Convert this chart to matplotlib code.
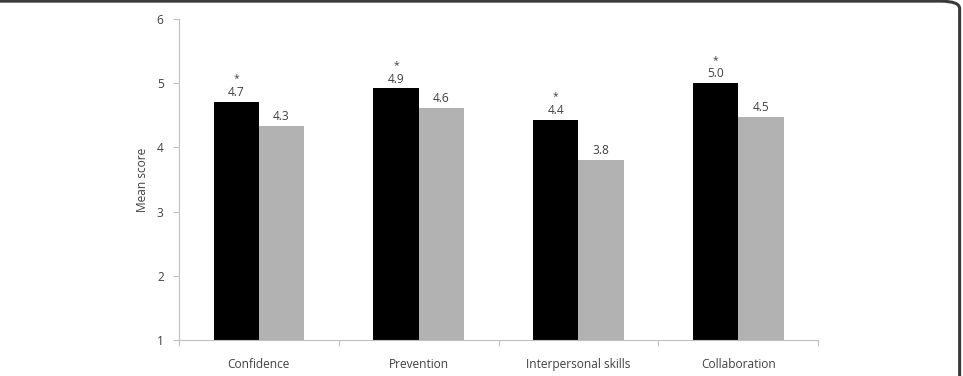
import numpy as np
import matplotlib
matplotlib.use("Agg")
import matplotlib.pyplot as plt
from matplotlib.patches import FancyBboxPatch

categories = ["Confidence", "Prevention", "Interpersonal skills", "Collaboration"]
group_a = [4.71, 4.92, 4.43, 5.00]
group_b = [4.33, 4.61, 3.80, 4.48]
labels_a = ["4.7", "4.9", "4.4", "5.0"]
labels_b = ["4.3", "4.6", "3.8", "4.5"]
significant = [True, True, True, True]

plt.rcParams['font.family'] = ['Open Sans', 'DejaVu Sans']
text_color = '#404040'
axis_color = '#bfbfbf'
fs = 8.6

fig = plt.figure(figsize=(9.63, 3.76), dpi=100)
ax = fig.add_axes([0.1859, 0.0957, 0.6636, 0.8537])

x = np.arange(len(categories))
w = 0.284
bars_a = ax.bar(x - w / 2, group_a, w, bottom=0, color='black')
bars_b = ax.bar(x + w / 2, group_b, w, bottom=0, color='#b2b2b2')

for i in range(len(categories)):
    ax.annotate(labels_a[i], (x[i] - w / 2, group_a[i]), xytext=(0, 2),
                textcoords='offset points', ha='center', va='bottom',
                fontsize=fs, color=text_color)
    ax.annotate(labels_b[i], (x[i] + w / 2, group_b[i]), xytext=(0, 2),
                textcoords='offset points', ha='center', va='bottom',
                fontsize=fs, color=text_color)
    if significant[i]:
        # asterisk sits just above the value label
        ax.annotate("*", (x[i] - w / 2, group_a[i]), xytext=(0, 12.6),
                    textcoords='offset points', ha='center', va='bottom',
                    fontsize=7.5, color=text_color)

ax.set_ylim(1, 6)
ax.set_xlim(-0.5, len(categories) - 0.5)
ax.set_yticks([1, 2, 3, 4, 5, 6])
ax.set_xticks(np.arange(len(categories) + 1) - 0.5)
ax.set_xticklabels([])
ax.set_xticks(x, minor=True)
ax.set_xticklabels(categories, minor=True)
ax.tick_params(axis='x', which='minor', length=0, pad=13, labelsize=fs, labelcolor=text_color)
ax.tick_params(axis='x', which='major', length=4, color=axis_color, direction='out')
ax.tick_params(axis='y', length=4, color=axis_color, labelsize=fs, labelcolor=text_color, pad=7)
ax.set_ylabel("Mean score", fontsize=fs, color=text_color, labelpad=6)

for s in ['top', 'right']:
    ax.spines[s].set_visible(False)
for s in ['left', 'bottom']:
    ax.spines[s].set_color(axis_color)

# rounded frame, open on the left and bottom sides
frame = FancyBboxPatch((-0.05, -0.2), 1.0465, 1.197,
                       boxstyle="round,pad=0,rounding_size=0.02",
                       transform=fig.transFigure, fill=False,
                       edgecolor='#3a3a3a', linewidth=2.2, clip_on=False)
fig.patches.append(frame)

fig.savefig("out.png", dpi=100)
